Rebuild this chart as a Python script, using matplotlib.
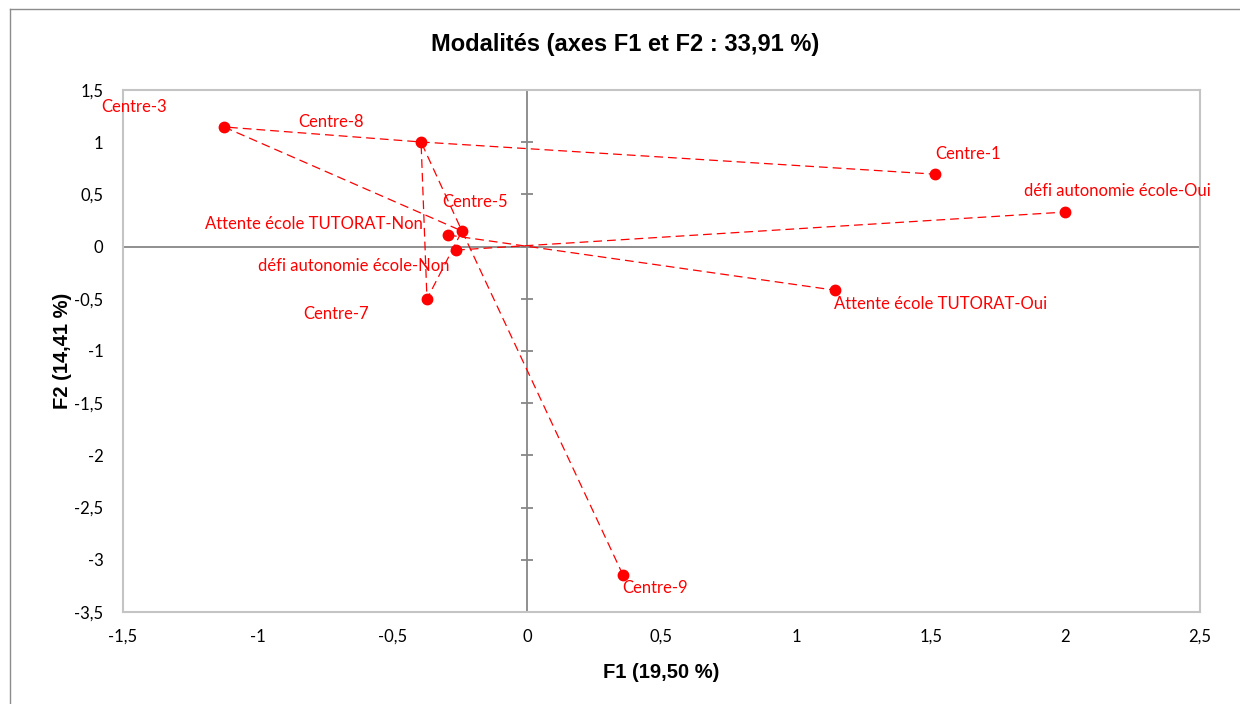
import matplotlib
matplotlib.use("Agg")
import matplotlib.pyplot as plt
from matplotlib.lines import Line2D

# coordonnees des modalites (F1, F2)
labels = [
    "Centre-1", "Centre-3", "Centre-5", "Centre-7", "Centre-8", "Centre-9",
    "Attente école TUTORAT-Non", "Attente école TUTORAT-Oui",
    "défi autonomie école-Non", "défi autonomie école-Oui",
]
f1 = [1.515, -1.125, -0.241, -0.371, -0.393, 0.357, -0.293, 1.145, -0.263, 2.0]
f2 = [0.694, 1.146, 0.149, -0.502, 1.002, -3.146, 0.111, -0.418, -0.033, 0.331]

# segments en pointilles reliant les modalites
chain = ["Centre-9", "Centre-5", "Centre-8", "Centre-7", "Centre-5",
         "Centre-3", "Centre-8", "Centre-1"]
pairs = [
    ("Attente école TUTORAT-Non", "Attente école TUTORAT-Oui"),
    ("défi autonomie école-Non", "défi autonomie école-Oui"),
]

xticks = [-1.5, -1, -0.5, 0, 0.5, 1, 1.5, 2, 2.5]
yticks = [-3.5, -3, -2.5, -2, -1.5, -1, -0.5, 0, 0.5, 1, 1.5]

# decalage des etiquettes (pixels, centre du texte)
label_offset = {
    "Centre-1": (33, 20),
    "Centre-3": (-90, 20),
    "Centre-5": (13, 29),
    "Centre-7": (-91, -15),
    "Centre-8": (-90, 20),
    "Centre-9": (32, -13),
    "Attente école TUTORAT-Non": (-134, 11),
    "Attente école TUTORAT-Oui": (105, -14),
    "défi autonomie école-Non": (-102, -16),
    "défi autonomie école-Oui": (52, 21),
}

RED = "#FF0000"
GRID = "#878787"
FRAME = "#C4C4C4"
LABEL_FONT = ["Lato", "DejaVu Sans"]
TICK_FONT = ["Lato", "DejaVu Sans"]
HEAD_FONT = ["Liberation Sans Narrow", "Liberation Sans", "DejaVu Sans"]


def fr(v):
    s = f"{v:g}".replace(".", ",")
    return s


def main() -> None:
    fig = plt.figure(figsize=(12.4, 7.04), dpi=100)
    ax = fig.add_axes([123 / 1240, 1 - 612 / 704, (1200 - 123) / 1240, (612 - 90) / 704])

    pos = {name: (x, y) for name, x, y in zip(labels, f1, f2)}

    ax.axhline(0, color=GRID, lw=1.3, zorder=1)
    ax.axvline(0, color=GRID, lw=1.3, zorder=1)
    ax.plot([0] * len(yticks), yticks, ls="none", marker="_", ms=9, mew=1.3,
            color=GRID, clip_on=False, zorder=1)

    dash = dict(color=RED, lw=0.9, ls=(0, (7, 4)), zorder=2)
    ax.plot([pos[n][0] for n in chain], [pos[n][1] for n in chain], **dash)
    for a, b in pairs:
        ax.plot([pos[a][0], pos[b][0]], [pos[a][1], pos[b][1]], **dash)

    ax.plot(f1, f2, ls="none", marker="o", ms=7.5, color=RED, zorder=3)

    for name, x, y in zip(labels, f1, f2):
        dx, dy = label_offset[name]
        ax.annotate(name, (x, y), xytext=(dx, dy), textcoords="offset pixels",
                    ha="center", va="center", color=RED, fontsize=12,
                    family=LABEL_FONT)

    ax.set_xlim(-1.5, 2.5)
    ax.set_ylim(-3.5, 1.5)
    ax.set_xticks(xticks)
    ax.set_yticks(yticks)
    ax.set_xticklabels([fr(v) for v in xticks], family=TICK_FONT, fontsize=12)
    ax.set_yticklabels([fr(v) for v in yticks], family=TICK_FONT, fontsize=12)
    ax.tick_params(length=0, pad=12)
    ax.tick_params(axis="y", pad=14)
    for sp in ax.spines.values():
        sp.set_color(FRAME)
        sp.set_linewidth(1.5)

    ax.set_xlabel("F1 (19,50 %)", family=HEAD_FONT, fontweight="bold",
                  fontsize=14.5, labelpad=13)
    ax.set_ylabel("F2 (14,41 %)", family=HEAD_FONT, fontweight="bold",
                  fontsize=14.5, labelpad=2)
    fig.text(625 / 1240, 1 - 45 / 704, "Modalités (axes F1 et F2 : 33,91 %)",
             ha="center", va="center", family=HEAD_FONT, fontweight="bold",
             fontsize=17)

    # cadre du graphique
    fig.add_artist(Line2D([10 / 1240, 10 / 1240], [0, 1 - 9 / 704],
                          transform=fig.transFigure, color="#8C8C8C", lw=1))
    fig.add_artist(Line2D([10 / 1240, 1], [1 - 9 / 704, 1 - 9 / 704],
                          transform=fig.transFigure, color="#8C8C8C", lw=1))

    fig.savefig("out.png", dpi=100)
    plt.close(fig)


if __name__ == "__main__":
    main()
